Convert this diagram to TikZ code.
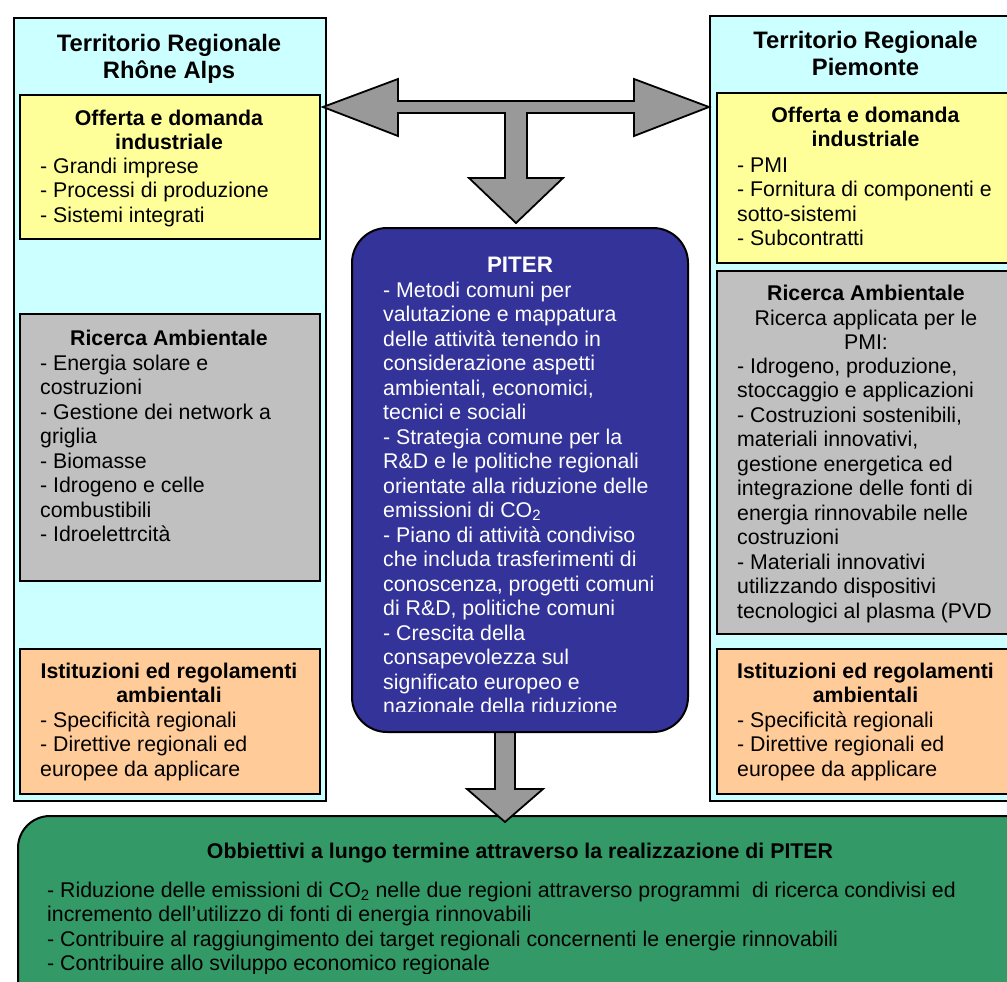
\documentclass[tikz,border=0pt]{standalone}
\usepackage{fontspec}
\setmainfont{Liberation Sans}
\usetikzlibrary{calc}
\definecolor{cyanbg}{HTML}{CCFFFF}
\definecolor{yellowbg}{HTML}{FFFF99}
\definecolor{graybg}{HTML}{C0C0C0}
\definecolor{orangebg}{HTML}{FFCC99}
\definecolor{piterblue}{HTML}{333399}
\definecolor{goalgreen}{HTML}{339966}
\definecolor{arrowgray}{HTML}{999999}
\newcommand{\firstln}{\rule{0pt}{18pt}}
\newcommand{\firstttl}{\rule{0pt}{20pt}}
\begin{document}
\begin{tikzpicture}[x=1pt,y=-1pt,
  region/.style={draw=black, line width=2.4pt, fill=cyanbg, anchor=north west, inner sep=0},
  panel/.style={draw=black, line width=2pt, anchor=north west, inner sep=0, minimum width=300pt},
  bigttl/.style={anchor=north, inner sep=0, align=center, font=\fontsize{23.8}{26.5}\selectfont\bfseries},
  subttl/.style={anchor=north, inner sep=0, align=center, font=\fontsize{21.3}{24.5}\selectfont\bfseries},
  bodytxt/.style={anchor=north west, inner sep=0, align=left, font=\fontsize{21.3}{24.5}\selectfont},
  blockarrow/.style={draw=black, line width=1.8pt, fill=arrowgray, line join=miter}
]
\useasboundingbox (0,0) rectangle (1007,982);
\fill[white] (0,0) rectangle (1007,982);

% ---------- left region ----------
\node[region, minimum width=312pt, minimum height=783pt] (rhone) at (13,17) {};
\node[bigttl] (rhonettl) at (169,31.7) {\firstttl Territorio Regionale\\Rhône Alps};
\node[panel, fill=yellowbg, minimum height=144pt] (lind) at (19,94) {};
\node[subttl] (lindttl) at (169,107) {\firstln Offerta e domanda\\industriale};
\node[bodytxt] (lindtxt) at (40,155) {\firstln - Grandi imprese\\- Processi di produzione\\- Sistemi integrati};
\node[panel, fill=graybg, minimum height=267pt] (lric) at (19,313) {};
\node[subttl, anchor=base] (lricttl) at (169,345) {Ricerca Ambientale};
\node[bodytxt] (lrictxt) at (40,352) {\firstln - Energia solare e\\costruzioni\\- Gestione dei network a\\griglia\\- Biomasse\\- Idrogeno e celle\\combustibili\\- Idroelettrcità};
\node[panel, fill=orangebg, minimum height=145pt] (list) at (19,648) {};
\node[subttl] (listttl) at (169,660) {\firstln Istituzioni ed regolamenti\\ambientali};
\node[bodytxt] (listtxt) at (40,709) {\firstln - Specificità regionali\\- Direttive regionali ed\\europee da applicare};

% ---------- right region ----------
\node[region, minimum width=312pt, minimum height=785pt] (piem) at (709,15) {};
\node[bigttl] (piemttl) at (865.5,28.3) {\firstttl Territorio Regionale\\Piemonte};
\node[panel, fill=yellowbg, minimum height=170pt] (rind) at (716,92) {};
\node[subttl] (rindttl) at (865.5,104) {\firstln Offerta e domanda\\industriale};
\node[bodytxt] (rindtxt) at (737,154) {\firstln - PMI\\- Fornitura di componenti e\\sotto-sistemi\\- Subcontratti};
\node[panel, fill=graybg, minimum height=363pt] (rric) at (716,270) {};
\node[subttl, anchor=base] (rricttl) at (866,300) {Ricerca Ambientale};
\node[subttl, font=\fontsize{21.3}{24.5}\selectfont] (rricsub) at (866,307) {\firstln Ricerca applicata per le\\PMI:};
\begin{scope}
  \clip (716,270) rectangle (1015,623);
  \node[bodytxt] (rrictxt) at (737,355) {\firstln - Idrogeno, produzione,\\stoccaggio e applicazioni\\- Costruzioni sostenibili,\\materiali innovativi,\\gestione energetica ed\\integrazione delle fonti di\\energia rinnovabile nelle\\costruzioni\\- Materiali innovativi\\utilizzando dispositivi\\tecnologici al plasma (PVD};
\end{scope}
\node[panel, fill=orangebg, minimum height=145pt] (rist) at (716,648) {};
\node[subttl] (ristttl) at (865.5,660) {\firstln Istituzioni ed regolamenti\\ambientali};
\node[bodytxt] (risttxt) at (737,709) {\firstln - Specificità regionali\\- Direttive regionali ed\\europee da applicare};

% ---------- goals box ----------
\draw[line width=2pt, fill=goalgreen, rounded corners=32pt] (18,816) rectangle (1040,1020);
\coordinate (goal) at (520,816);
\node[anchor=base, inner sep=0, font=\fontsize{21.3}{24.5}\selectfont\bfseries] (goalttl) at (520,858) {Obbiettivi a lungo termine attraverso la realizzazione di PITER};
\begin{scope}
  \clip (18,816) rectangle (1007,973);
  \node[bodytxt] (goaltxt) at (47,879) {\firstln - Riduzione delle emissioni di CO\textsubscript{2} nelle due regioni attraverso programmi\ \ di ricerca condivisi ed\\incremento dell’utilizzo di fonti di energia rinnovabili\\- Contribuire al raggiungimento dei target regionali concernenti le energie rinnovabili\\- Contribuire allo sviluppo economico regionale};
\end{scope}

% ---------- lower arrow (PITER -> goals) ----------
\coordinate (tipG) at (505,822);
\draw[blockarrow] (495,725) -- (495,789) -- (467,789) -- (tipG) -- (543,789) -- (515,789) -- (515,725) -- cycle;

% ---------- PITER ----------
\draw[line width=2pt, fill=piterblue, rounded corners=35pt] (352,228) rectangle (688,732);
\coordinate (piter) at (520,228);
\node[anchor=base, inner sep=0, text=white, font=\fontsize{22.4}{24.5}\selectfont\bfseries] (piterttl) at (520,272) {PITER};
\begin{scope}
  \clip (352,228) rectangle (688,711);
  \node[bodytxt, text=white] (pitertxt) at (383,279) {\firstln - Metodi comuni per\\valutazione e mappatura\\delle attività tenendo in\\considerazione aspetti\\ambientali, economici,\\tecnici e sociali\\- Strategia comune per la\\R\&D e le politiche regionali\\orientate alla riduzione delle\\emissioni di CO\textsubscript{2}\\- Piano di attività condiviso\\che includa trasferimenti di\\conoscenza, progetti comuni\\di R\&D, politiche comuni\\- Crescita della\\consapevolezza sul\\significato europeo e\\nazionale della riduzione};
\end{scope}

% ---------- upper T arrow ----------
\coordinate (tipL) at (323,107);
\coordinate (tipR) at (709,107);
\coordinate (tipD) at (516,223);
\draw[blockarrow] (tipL) -- (398,79) -- (398,101) -- (634,101) -- (634,79) -- (tipR) -- (634,136) -- (634,113) -- (527,113) -- (527,178) -- (563,178) -- (tipD) -- (469,178) -- (505,178) -- (505,113) -- (398,113) -- (398,136) -- cycle;
\end{tikzpicture}
\end{document}
